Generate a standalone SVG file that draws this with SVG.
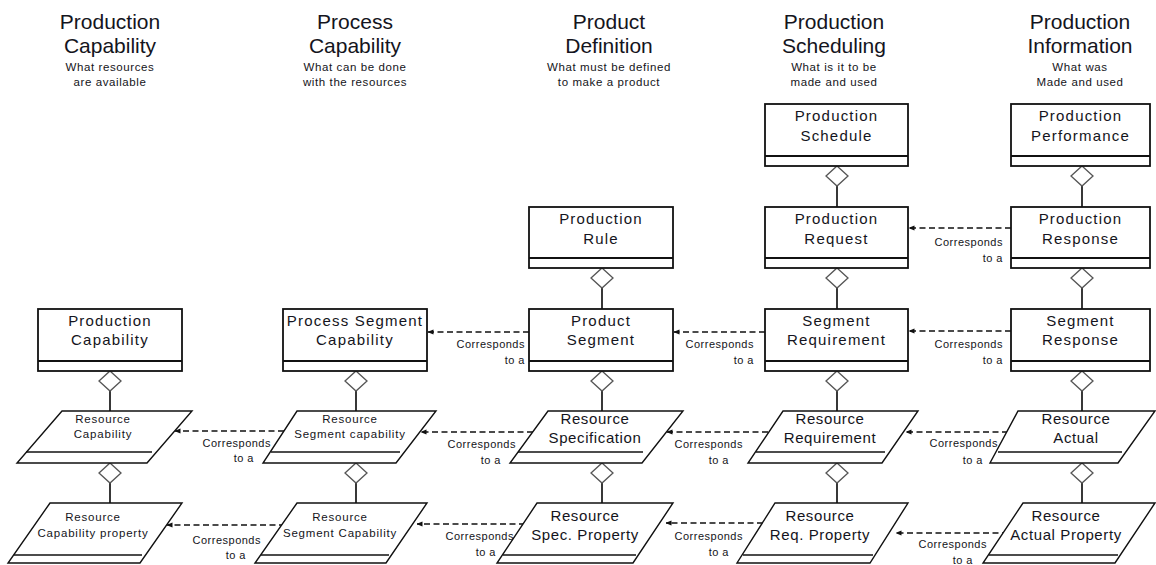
<svg xmlns="http://www.w3.org/2000/svg" width="1156" height="565" viewBox="0 0 1156 565">
<style>
text{font-family:"Liberation Sans",Arial,sans-serif;fill:#141420;text-anchor:middle}
.h{font-size:21px}
.s{font-size:11.5px;letter-spacing:0.6px}
.bt{font-size:15px;letter-spacing:1.2px}
.pl{font-size:15px;letter-spacing:0.6px}
.ps{font-size:11.5px;letter-spacing:0.8px}
.lb{font-size:11px;letter-spacing:0.5px;text-anchor:end}
.box{fill:#fff;stroke:#111;stroke-width:1.8}
.par{fill:#fff;stroke:#111;stroke-width:1.4}
.in{stroke:#111;stroke-width:1.4}
.dia{fill:#fff;stroke:#555;stroke-width:1.3}
.vl{stroke:#222;stroke-width:1.8}
.dash{fill:none;stroke:#111;stroke-width:1.5;stroke-dasharray:6 3.5;marker-end:url(#ah)}
</style>
<defs>
<marker id="ah" viewBox="0 0 6 6" refX="5.5" refY="3" markerWidth="6" markerHeight="6" markerUnits="userSpaceOnUse" orient="auto">
<path d="M0,0.5 L6,3 L0,5.5 Z" fill="#111"/>
</marker>
</defs>
<rect width="1156" height="565" fill="#fff"/>

<g id="headers">
<text class="h" x="110" y="29">Production</text><text class="h" x="110" y="53">Capability</text>
<text class="s" x="110" y="71">What resources</text><text class="s" x="110" y="86">are available</text>
<text class="h" x="355" y="29">Process</text><text class="h" x="355" y="53">Capability</text>
<text class="s" x="355" y="71">What can be done</text><text class="s" x="355" y="86">with the resources</text>
<text class="h" x="609" y="29">Product</text><text class="h" x="609" y="53">Definition</text>
<text class="s" x="609" y="71">What must be defined</text><text class="s" x="609" y="86">to make a product</text>
<text class="h" x="834" y="29">Production</text><text class="h" x="834" y="53">Scheduling</text>
<text class="s" x="834" y="71">What is it to be</text><text class="s" x="834" y="86">made and used</text>
<text class="h" x="1080" y="29">Production</text><text class="h" x="1080" y="53">Information</text>
<text class="s" x="1080" y="71">What was</text><text class="s" x="1080" y="86">Made and used</text>
</g>

<g id="connectors">
<!-- vertical aggregation lines -->
<line class="vl" x1="837" y1="186" x2="837" y2="207"/>
<line class="vl" x1="1082" y1="186" x2="1082" y2="207"/>
<line class="vl" x1="602" y1="288" x2="602" y2="309"/>
<line class="vl" x1="837" y1="288" x2="837" y2="309"/>
<line class="vl" x1="1082" y1="288" x2="1082" y2="309"/>
<line class="vl" x1="110" y1="391" x2="110" y2="411"/>
<line class="vl" x1="356" y1="391" x2="356" y2="411"/>
<line class="vl" x1="602" y1="391" x2="602" y2="411"/>
<line class="vl" x1="837" y1="391" x2="837" y2="411"/>
<line class="vl" x1="1082" y1="391" x2="1082" y2="411"/>
<line class="vl" x1="110" y1="483" x2="110" y2="503"/>
<line class="vl" x1="356" y1="483" x2="356" y2="503"/>
<line class="vl" x1="602" y1="483" x2="602" y2="503"/>
<line class="vl" x1="837" y1="483" x2="837" y2="503"/>
<line class="vl" x1="1082" y1="483" x2="1082" y2="503"/>
<!-- diamonds -->
<path class="dia" d="M837,166 L848,176 L837,186 L826,176 Z"/>
<path class="dia" d="M1082,166 L1093,176 L1082,186 L1071,176 Z"/>
<path class="dia" d="M602,268 L613,278 L602,288 L591,278 Z"/>
<path class="dia" d="M837,268 L848,278 L837,288 L826,278 Z"/>
<path class="dia" d="M1082,268 L1093,278 L1082,288 L1071,278 Z"/>
<path class="dia" d="M110,371 L121,381 L110,391 L99,381 Z"/>
<path class="dia" d="M356,371 L367,381 L356,391 L345,381 Z"/>
<path class="dia" d="M602,371 L613,381 L602,391 L591,381 Z"/>
<path class="dia" d="M837,371 L848,381 L837,391 L826,381 Z"/>
<path class="dia" d="M1082,371 L1093,381 L1082,391 L1071,381 Z"/>
<path class="dia" d="M110,463 L121,473 L110,483 L99,473 Z"/>
<path class="dia" d="M356,463 L367,473 L356,483 L345,473 Z"/>
<path class="dia" d="M602,463 L613,473 L602,483 L591,473 Z"/>
<path class="dia" d="M837,463 L848,473 L837,483 L826,473 Z"/>
<path class="dia" d="M1082,463 L1093,473 L1082,483 L1071,473 Z"/>
<!-- corresponds-to dashed arrows -->
<line class="dash" x1="1011" y1="228" x2="909" y2="228"/>
<text class="lb" x="1003" y="246">Corresponds</text><text class="lb" x="1003" y="262">to a</text>
<line class="dash" x1="1011" y1="331" x2="909" y2="331"/>
<text class="lb" x="1003" y="348">Corresponds</text><text class="lb" x="1003" y="364">to a</text>
<line class="dash" x1="765" y1="332" x2="674" y2="332"/>
<text class="lb" x="754" y="348">Corresponds</text><text class="lb" x="754" y="364">to a</text>
<line class="dash" x1="529" y1="332" x2="428" y2="332"/>
<text class="lb" x="525" y="348">Corresponds</text><text class="lb" x="525" y="364">to a</text>

<line class="dash" x1="284" y1="431" x2="175" y2="431"/>
<text class="lb" x="271" y="447">Corresponds</text><text class="lb" x="254" y="462">to a</text>
<line class="dash" x1="533" y1="432" x2="421" y2="432"/>
<text class="lb" x="516" y="448">Corresponds</text><text class="lb" x="501" y="464">to a</text>
<line class="dash" x1="768" y1="432" x2="667" y2="432"/>
<text class="lb" x="743" y="448">Corresponds</text><text class="lb" x="729" y="464">to a</text>
<line class="dash" x1="1008" y1="432" x2="906" y2="432"/>
<text class="lb" x="998" y="447">Corresponds</text><text class="lb" x="983" y="464">to a</text>

<line class="dash" x1="285" y1="525" x2="167" y2="525"/>
<text class="lb" x="261" y="544">Corresponds</text><text class="lb" x="246" y="559">to a</text>
<line class="dash" x1="525" y1="524" x2="417" y2="524"/>
<text class="lb" x="514" y="540">Corresponds</text><text class="lb" x="496" y="556">to a</text>
<line class="dash" x1="763" y1="523" x2="666" y2="523"/>
<text class="lb" x="743" y="540">Corresponds</text><text class="lb" x="729" y="556">to a</text>
<line class="dash" x1="1008" y1="533" x2="896" y2="533"/>
<text class="lb" x="987" y="548">Corresponds</text><text class="lb" x="973" y="564">to a</text>
</g>

<g id="production-schedule">
<rect class="box" x="765" y="104" width="143" height="62"/><line class="box" x1="765" y1="156" x2="908" y2="156"/>
<text class="bt" x="836.5" y="121">Production</text><text class="bt" x="836.5" y="141">Schedule</text>
</g>
<g id="production-performance">
<rect class="box" x="1011" y="104" width="139" height="62"/><line class="box" x1="1011" y1="156" x2="1150" y2="156"/>
<text class="bt" x="1080.5" y="121">Production</text><text class="bt" x="1080.5" y="141">Performance</text>
</g>
<g id="production-rule">
<rect class="box" x="529" y="207" width="144" height="61"/><line class="box" x1="529" y1="258" x2="673" y2="258"/>
<text class="bt" x="601" y="224">Production</text><text class="bt" x="601" y="244">Rule</text>
</g>
<g id="production-request">
<rect class="box" x="765" y="207" width="143" height="61"/><line class="box" x1="765" y1="258" x2="908" y2="258"/>
<text class="bt" x="836.5" y="224">Production</text><text class="bt" x="836.5" y="244">Request</text>
</g>
<g id="production-response">
<rect class="box" x="1011" y="207" width="139" height="61"/><line class="box" x1="1011" y1="258" x2="1150" y2="258"/>
<text class="bt" x="1080.5" y="224">Production</text><text class="bt" x="1080.5" y="244">Response</text>
</g>
<g id="production-capability">
<rect class="box" x="38" y="309" width="144" height="62"/><line class="box" x1="38" y1="361" x2="182" y2="361"/>
<text class="bt" x="110" y="326">Production</text><text class="bt" x="110" y="345">Capability</text>
</g>
<g id="process-segment-capability">
<rect class="box" x="283" y="309" width="144" height="62"/><line class="box" x1="283" y1="361" x2="427" y2="361"/>
<text class="bt" x="355" y="326">Process Segment</text><text class="bt" x="355" y="345">Capability</text>
</g>
<g id="product-segment">
<rect class="box" x="529" y="309" width="144" height="62"/><line class="box" x1="529" y1="361" x2="673" y2="361"/>
<text class="bt" x="601" y="326">Product</text><text class="bt" x="601" y="345">Segment</text>
</g>
<g id="segment-requirement">
<rect class="box" x="765" y="309" width="143" height="62"/><line class="box" x1="765" y1="361" x2="908" y2="361"/>
<text class="bt" x="836.5" y="326">Segment</text><text class="bt" x="836.5" y="345">Requirement</text>
</g>
<g id="segment-response">
<rect class="box" x="1011" y="309" width="139" height="62"/><line class="box" x1="1011" y1="361" x2="1150" y2="361"/>
<text class="bt" x="1080.5" y="326">Segment</text><text class="bt" x="1080.5" y="345">Response</text>
</g>

<g id="resource-capability">
<path class="par" d="M62,411 L192,411 L147,463 L17,463 Z"/><line class="in" x1="26" y1="452" x2="152" y2="452"/>
<text class="ps" x="103" y="423">Resource</text><text class="ps" x="103" y="438">Capability</text>
</g>
<g id="resource-segment-capability">
<path class="par" d="M297,411 L436,411 L396,463 L263,463 Z"/><line class="in" x1="271" y1="452" x2="400" y2="452"/>
<text class="ps" x="350" y="423">Resource</text><text class="ps" x="350" y="438">Segment  capability</text>
</g>
<g id="resource-specification">
<path class="par" d="M548,411 L683,411 L642,463 L510,463 Z"/><line class="in" x1="518" y1="452" x2="643" y2="452"/>
<text class="pl" x="595" y="424">Resource</text><text class="pl" x="595" y="443">Specification</text>
</g>
<g id="resource-requirement">
<path class="par" d="M783,411 L918,411 L882,463 L748,463 Z"/><line class="in" x1="756" y1="452" x2="885" y2="452"/>
<text class="pl" x="830" y="424">Resource</text><text class="pl" x="830" y="443">Requirement</text>
</g>
<g id="resource-actual">
<path class="par" d="M1018,411 L1155,411 L1118,463 L990,463 Z"/><line class="in" x1="998" y1="452" x2="1122" y2="452"/>
<text class="pl" x="1076" y="424">Resource</text><text class="pl" x="1076" y="443">Actual</text>
</g>
<g id="resource-capability-property">
<path class="par" d="M50,503 L182,503 L140,563 L8,563 Z"/><line class="in" x1="14" y1="555" x2="142" y2="555"/>
<text class="ps" x="93" y="521">Resource</text><text class="ps" x="93" y="537">Capability  property</text>
</g>
<g id="resource-segment-capability-2">
<path class="par" d="M297,503 L427,503 L386,563 L255,563 Z"/><line class="in" x1="261" y1="555" x2="389" y2="555"/>
<text class="ps" x="340" y="521">Resource</text><text class="ps" x="340" y="537">Segment  Capability</text>
</g>
<g id="resource-spec-property">
<path class="par" d="M537,503 L673,503 L633,563 L497,563 Z"/><line class="in" x1="503" y1="555" x2="636" y2="555"/>
<text class="pl" x="585" y="521">Resource</text><text class="pl" x="585" y="540">Spec. Property</text>
</g>
<g id="resource-req-property">
<path class="par" d="M775,503 L908,503 L870,563 L737,563 Z"/><line class="in" x1="743" y1="555" x2="873" y2="555"/>
<text class="pl" x="820" y="521">Resource</text><text class="pl" x="820" y="540">Req. Property</text>
</g>
<g id="resource-actual-property">
<path class="par" d="M1023,503 L1155,503 L1115,563 L983,563 Z"/><line class="in" x1="989" y1="555" x2="1118" y2="555"/>
<text class="pl" x="1066" y="521">Resource</text><text class="pl" x="1066" y="540">Actual Property</text>
</g>
</svg>
